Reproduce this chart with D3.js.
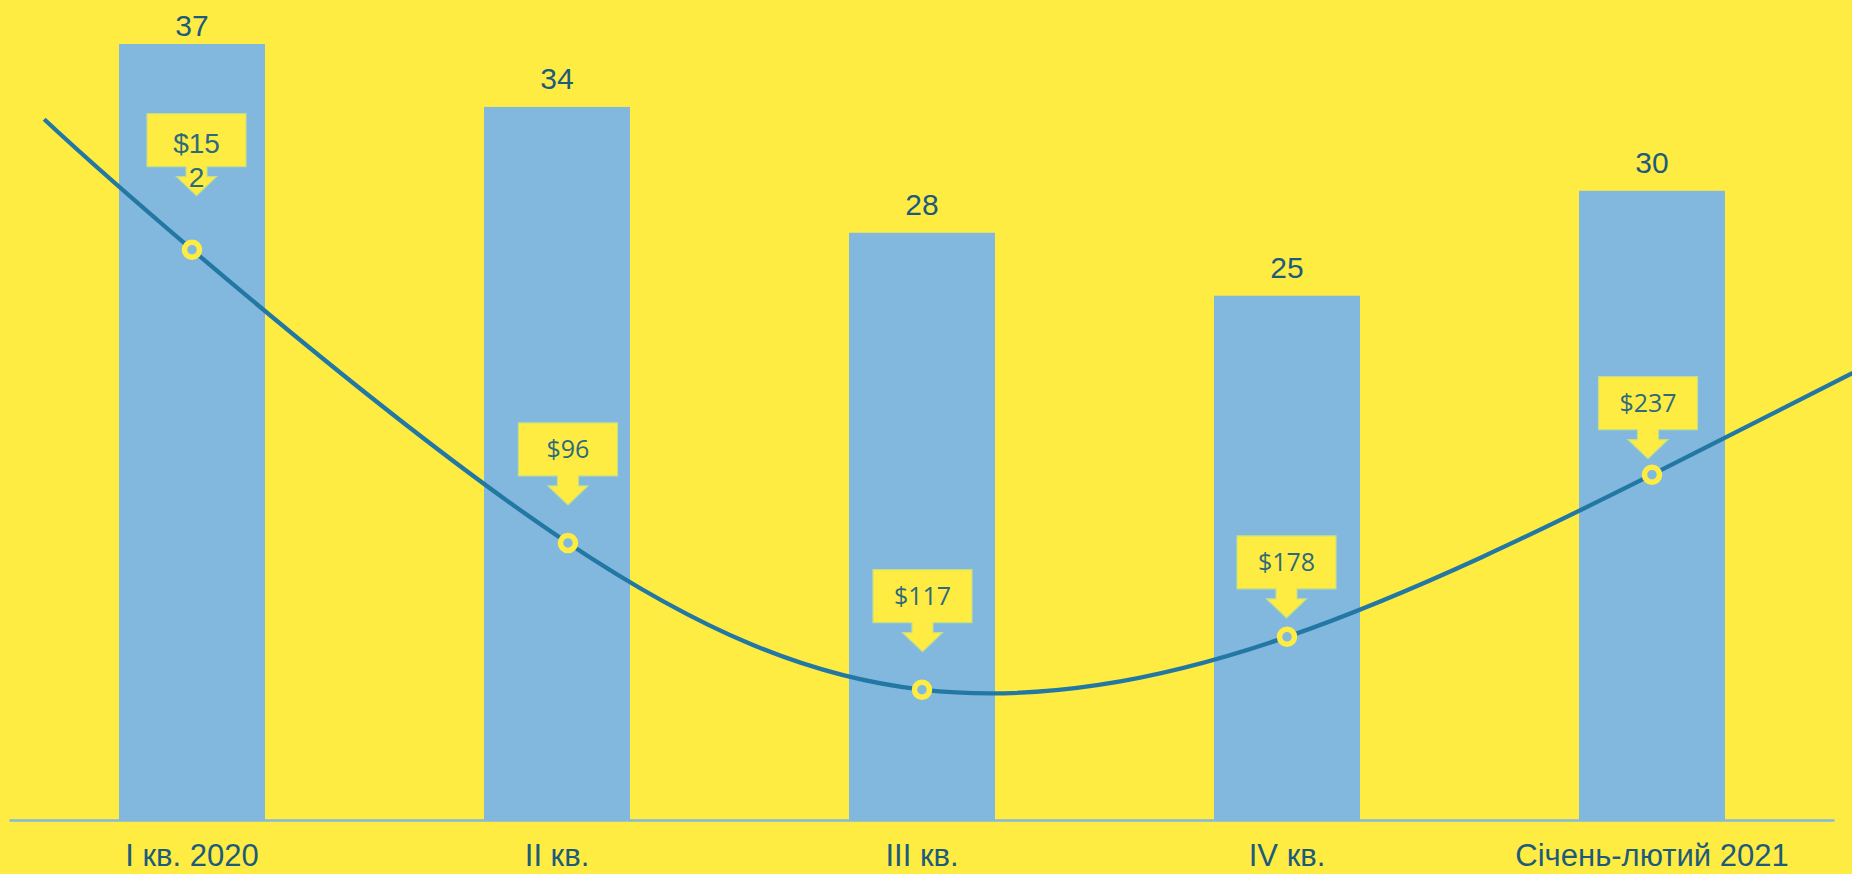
<!DOCTYPE html>
<html>
<head>
<meta charset="utf-8">
<script src="https://cdn.jsdelivr.net/npm/d3@7/dist/d3.min.js"></script>
<style>
  html, body { margin: 0; padding: 0; background: #FFEC43; overflow: hidden; }
  svg { display: block; }
</style>
</head>
<body>
<svg id="chart" width="1852" height="874"></svg>
<script>
// ---- data ----
const categories = ["I кв. 2020", "II кв.", "III кв.", "IV кв.", "Січень-лютий 2021"];
const barValues = [37, 34, 28, 25, 30];
const priceLabels = [152, 96, 117, 178, 237];
// curve level of each marker on the (hidden) secondary axis, 0–100
const curveLevels = [73.5, 35.7, 16.8, 23.6, 44.5];
// marker positions along the category axis (category index units)
const curvePos = [0, 1.03, 2, 3, 4];
// trendline extends backward / forward beyond the markers
const trendStart = { pos: -0.405, level: 90.3 };
const trendEnd = { pos: 4.55, level: 57.6 };

// ---- layout / style ----
const W = 1852, H = 874;
const base = 820;
const C = {
  bg: "#FFEC43", bar: "#82B8DE", line: "#2278A3", text: "#1D5B7C",
  callText: "#2E6A7E", callStroke: "#C4DF86"
};
const calloutGap = [54, 38, 38, 19, 16];
const calloutDx = [4.5, 0, 0.5, -0.5, -4];

const svg = d3.select("#chart");
svg.append("rect").attr("width", W).attr("height", H).attr("fill", C.bg);

const x = d3.scaleBand().domain(categories).range([9.5, 1834.5])
  .paddingInner(0.6).paddingOuter(0.3);
const y = d3.scaleLinear().domain([0, 40]).range([base, base - 40 * 20.973]);
const xl = d3.scaleLinear().domain([0, 4])
  .range([x(categories[0]) + x.bandwidth() / 2, x(categories[4]) + x.bandwidth() / 2]);
const y2 = d3.scaleLinear().domain([0, 100]).range([base, base - 776]);

// bars
svg.append("g").selectAll("rect").data(barValues).join("rect")
  .attr("x", (d, i) => x(categories[i]))
  .attr("y", d => y(d))
  .attr("width", x.bandwidth())
  .attr("height", d => base - y(d))
  .attr("fill", C.bar);

// bar value labels (kept inside the top edge)
svg.append("g").selectAll("text").data(barValues).join("text")
  .attr("x", (d, i) => x(categories[i]) + x.bandwidth() / 2)
  .attr("y", d => Math.max(y(d) - 18, 36))
  .attr("text-anchor", "middle")
  .attr("font-family", "'Liberation Sans', Arial, sans-serif")
  .attr("font-size", 30)
  .attr("fill", C.text)
  .text(d => d);

// axis
const axis = d3.axisBottom(x).tickSize(0).tickPadding(24);
const gAxis = svg.append("g").attr("transform", `translate(0,${base})`).call(axis);
gAxis.select(".domain").attr("stroke", C.bar).attr("stroke-width", 2.5)
  .attr("d", `M9.5,0.5H1834.5`);
gAxis.selectAll("text")
  .attr("font-family", "'Liberation Sans', Arial, sans-serif")
  .attr("font-size", 31)
  .attr("fill", C.text)
  .attr("dy", 0)
  .attr("y", 46);

// trend curve
const curvePts = [[trendStart.pos, trendStart.level]]
  .concat(curvePos.map((p, i) => [p, curveLevels[i]]))
  .concat([[trendEnd.pos, trendEnd.level]]);
const line = d3.line().x(d => xl(d[0])).y(d => y2(d[1])).curve(d3.curveNatural);
svg.append("path").datum(curvePts)
  .attr("d", line)
  .attr("fill", "none")
  .attr("stroke", C.line)
  .attr("stroke-width", 4.3);

// markers
svg.append("g").selectAll("circle").data(curveLevels).join("circle")
  .attr("cx", (d, i) => xl(curvePos[i]))
  .attr("cy", d => y2(d))
  .attr("r", 7.5)
  .attr("fill", C.bar)
  .attr("stroke", C.bg)
  .attr("stroke-width", 5.5);

// callouts
const bw = 99, bh = 53, stemW = 21, stemH = 10, headW = 40, headH = 19;
const gc = svg.append("g");
priceLabels.forEach((v, i) => {
  const cx = xl(curvePos[i]) + calloutDx[i];
  const tipY = y2(curveLevels[i]) - calloutGap[i];
  const top = tipY - headH - stemH - bh;
  const l = cx - bw / 2, r = cx + bw / 2, b = top + bh;
  const p = d3.path();
  p.moveTo(l, top); p.lineTo(r, top); p.lineTo(r, b);
  p.lineTo(cx + stemW / 2, b); p.lineTo(cx + stemW / 2, b + stemH);
  p.lineTo(cx + headW / 2, b + stemH); p.lineTo(cx, tipY);
  p.lineTo(cx - headW / 2, b + stemH); p.lineTo(cx - stemW / 2, b + stemH);
  p.lineTo(cx - stemW / 2, b); p.lineTo(l, b); p.closePath();
  gc.append("path").attr("d", p.toString())
    .attr("fill", C.bg).attr("stroke", C.callStroke).attr("stroke-width", 1.2);
  const label = "$" + v;
  if (i === 0) {
    // the first label overflows its box and wraps in the original
    const t = gc.append("text").attr("text-anchor", "middle")
      .attr("font-family", "'Liberation Sans', Arial, sans-serif")
      .attr("font-size", 28).attr("fill", C.callText);
    t.append("tspan").attr("x", cx).attr("y", top + 39).text(label.slice(0, 3));
    t.append("tspan").attr("x", cx).attr("y", top + 73).text(label.slice(3));
  } else {
    gc.append("text").attr("x", cx).attr("y", top + bh / 2 + 9)
      .attr("text-anchor", "middle")
      .attr("font-family", "'Open Sans', sans-serif")
      .attr("font-size", 25).attr("fill", C.callText)
      .text(label);
  }
});
</script>
</body>
</html>
